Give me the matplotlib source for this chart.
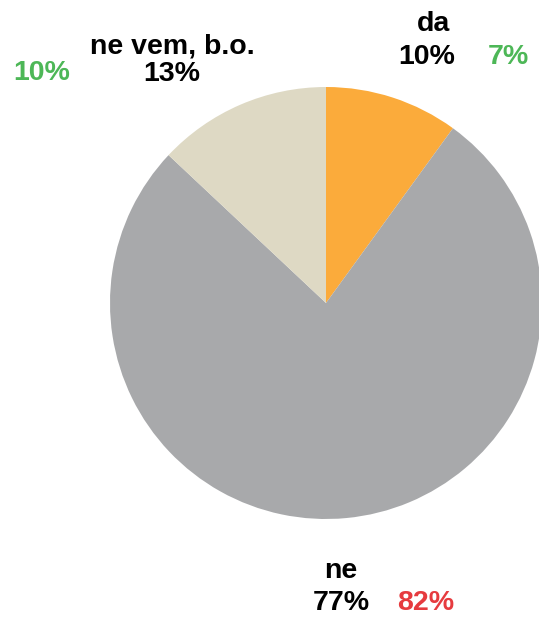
import matplotlib
matplotlib.use("Agg")
import matplotlib.pyplot as plt

categories = ["da", "ne", "ne vem, b.o."]
values = [10, 77, 13]
prev_values = ["7%", "82%", "10%"]
prev_colors = ["#4DB757", "#E63B3F", "#4DB757"]
colors = ["#FBAB3B", "#A8A9AB", "#DED9C4"]

plt.rcParams['font.family'] = ['Liberation Sans', 'DejaVu Sans']

W, H = 539, 617
fig = plt.figure(figsize=(W / 100, H / 100), dpi=100)
ax = fig.add_axes([0, 0, 1, 1])
ax.set_xlim(0, W)
ax.set_ylim(0, H)
ax.axis('off')

cx, cy, r = 326, H - 303, 216
ax.pie(values, colors=colors, startangle=90, counterclock=False,
       center=(cx, cy), radius=r, frame=True,
       wedgeprops=dict(linewidth=0))
ax.set_xlim(0, W)
ax.set_ylim(0, H)
ax.set_aspect('equal')
ax.axis('off')

fs = 20.5
def t(x, y, s, c="black"):
    ax.text(x, H - y, s, ha='center', va='center', fontsize=fs,
            fontweight='bold', color=c)

# da
t(433, 24, categories[0])
t(427, 57, f"{values[0]}%")
t(508, 57, prev_values[0], prev_colors[0])
# ne
t(341, 571, categories[1])
t(341, 603, f"{values[1]}%")
t(426, 603, prev_values[1], prev_colors[1])
# ne vem
t(172, 46, categories[2])
t(172, 74, f"{values[2]}%")
t(42, 73, prev_values[2], prev_colors[2])

fig.savefig("out.png", dpi=100)
